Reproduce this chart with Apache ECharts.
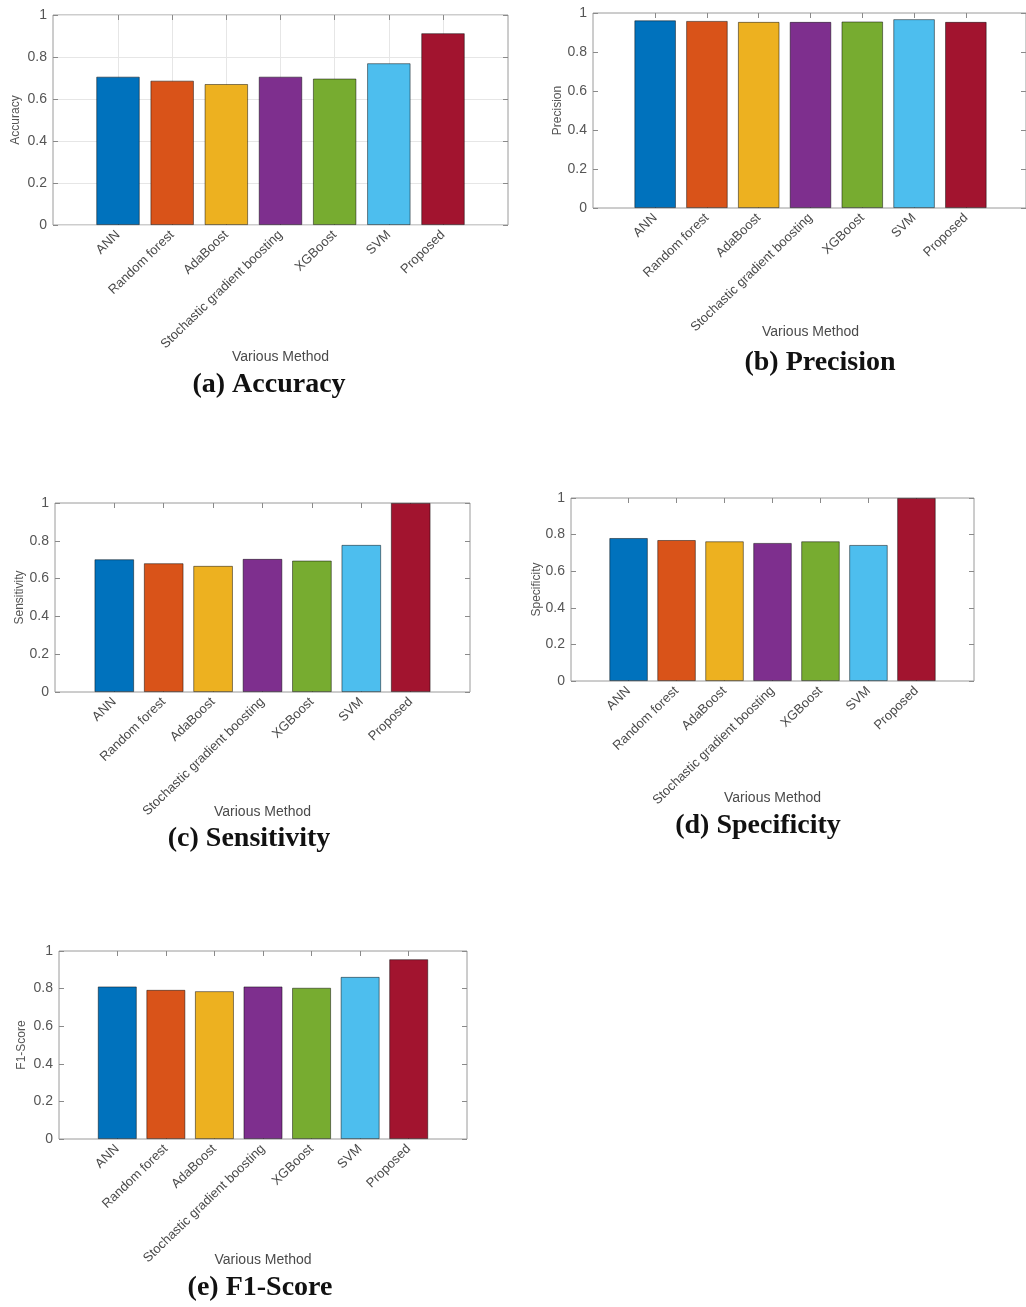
<!DOCTYPE html>
<html>
<head>
<meta charset="utf-8">
<script src="https://cdn.jsdelivr.net/npm/echarts@6/dist/echarts.min.js"></script>
<style>
html, body { margin: 0; padding: 0; background: #fff; }
#chart { width: 1026px; height: 1307px; }
</style>
</head>
<body>
<div id="chart"></div>
<script>
// methods along the x axis of every panel
const methods = ['ANN', 'Random forest', 'AdaBoost', 'Stochastic gradient boosting', 'XGBoost', 'SVM', 'Proposed'];
const barColors = ['#0072BD', '#D95319', '#EDB120', '#7E2F8E', '#77AC30', '#4DBEEE', '#A2142F'];

// values
const accuracy    = [0.706, 0.687, 0.671, 0.706, 0.697, 0.770, 0.913];
const precision   = [0.962, 0.959, 0.954, 0.954, 0.956, 0.968, 0.954];
const sensitivity = [0.702, 0.681, 0.667, 0.704, 0.695, 0.778, 1.000];
const specificity = [0.781, 0.770, 0.763, 0.754, 0.763, 0.743, 1.000];
const f1Score     = [0.811, 0.793, 0.786, 0.811, 0.804, 0.862, 0.956];

// y axis: 0 .. 1 by 0.2
const yMin = 0;
const yMax = 1;
const yStep = 0.2;

const xName = 'Various Method';

// panel layout: gray frame [left, top, right, bottom], caption centre, name gaps
const panels = [
    {values: accuracy,    yName: 'Accuracy',    caption: '(a) Accuracy',    box: [53, 15, 508, 225],    cap: [269, 385],  xGap: 125, yGap: 31, gridOn: true},
    {values: precision,   yName: 'Precision',   caption: '(b) Precision',   box: [593, 13, 1028, 208],  cap: [820, 363],  xGap: 117, yGap: 29, gridOn: false},
    {values: sensitivity, yName: 'Sensitivity', caption: '(c) Sensitivity', box: [55, 503, 470, 692],  cap: [249, 839],  xGap: 113, yGap: 29, gridOn: false},
    {values: specificity, yName: 'Specificity', caption: '(d) Specificity', box: [571, 498, 974, 681],  cap: [758, 826],  xGap: 110, yGap: 28, gridOn: false},
    {values: f1Score,     yName: 'F1-Score',    caption: '(e) F1-Score',    box: [59, 951, 467, 1139],  cap: [260, 1288], xGap: 114, yGap: 31, gridOn: false}
];

const sans = 'Liberation Sans, Arial, sans-serif';
const frameColor = '#9a9a9a';
const tickColor = '#8a8a8a';
const gridColor = '#e6e6e6';

const grid = [], xAxis = [], yAxis = [], series = [], graphic = [];

panels.forEach(function (p) {
    const x0 = p.box[0], y0 = p.box[1], x1 = p.box[2], y1 = p.box[3];
    const w = x1 - x0, h = y1 - y0;
    // the x limits leave 1.2 bar-slots either side of the 7 bars
    const band = w / 8.4;

    // outer grid: the frame, y labels, inside ticks on both sides
    const gOuter = grid.length;
    grid.push({left: x0, top: y0, width: w, height: h, show: true,
        borderColor: frameColor, borderWidth: 1, backgroundColor: 'transparent'});
    // inner grid: only the 7 category slots
    const gInner = grid.length;
    grid.push({left: x0 + band * 0.7, top: y0, width: band * 7, height: h});

    xAxis.push({gridIndex: gOuter, type: 'value', show: false, min: 0, max: 1});
    const xBottom = xAxis.length;
    xAxis.push({
        gridIndex: gInner, type: 'category', data: methods, position: 'bottom',
        axisLine: {show: false},
        axisTick: {show: true, inside: true, alignWithLabel: true, interval: 0, length: 5, lineStyle: {color: tickColor}},
        axisLabel: {rotate: 44, margin: 8, interval: 0, fontSize: 13, color: '#4a4a4a', fontFamily: sans},
        splitLine: {show: p.gridOn, alignWithLabel: true, interval: 0, lineStyle: {color: gridColor}},
        name: xName, nameLocation: 'middle', nameGap: p.xGap, nameMoveOverlap: false,
        nameTextStyle: {fontSize: 14, color: '#4a4a4a', fontFamily: sans}
    });
    xAxis.push({
        gridIndex: gInner, type: 'category', data: methods, position: 'top',
        axisLine: {show: false},
        axisTick: {show: true, inside: true, alignWithLabel: true, interval: 0, length: 5, lineStyle: {color: tickColor}},
        axisLabel: {show: false}
    });

    yAxis.push({
        gridIndex: gOuter, type: 'value', min: yMin, max: yMax, interval: yStep, position: 'left',
        axisLine: {show: false},
        axisTick: {show: true, inside: true, length: 5, lineStyle: {color: tickColor}},
        axisLabel: {margin: 6, fontSize: 14, color: '#555', fontFamily: sans},
        splitLine: {show: p.gridOn, lineStyle: {color: gridColor}},
        name: p.yName, nameLocation: 'middle', nameRotate: 90, nameGap: p.yGap, nameMoveOverlap: false,
        nameTextStyle: {fontSize: 12, color: '#555', fontFamily: sans}
    });
    yAxis.push({
        gridIndex: gOuter, type: 'value', min: yMin, max: yMax, interval: yStep, position: 'right',
        axisLine: {show: false},
        axisTick: {show: true, inside: true, length: 5, lineStyle: {color: tickColor}},
        axisLabel: {show: false},
        splitLine: {show: false}
    });
    const yInner = yAxis.length;
    yAxis.push({gridIndex: gInner, type: 'value', min: yMin, max: yMax, show: false});

    series.push({
        type: 'bar',
        xAxisIndex: xBottom,
        yAxisIndex: yInner,
        barWidth: '80%',
        silent: true,
        itemStyle: {borderColor: 'rgba(0,0,0,0.6)', borderWidth: 0.8},
        data: p.values.map(function (v, i) {
            return {value: v, itemStyle: {color: barColors[i]}};
        })
    });

    graphic.push({
        type: 'text', x: p.cap[0], y: p.cap[1], silent: true,
        style: {text: p.caption, align: 'center', verticalAlign: 'middle',
            font: 'bold 28px "Liberation Serif", "Times New Roman", serif', fill: '#111'}
    });
});

const chart = echarts.init(document.getElementById('chart'), null, {renderer: 'canvas'});
chart.setOption({
    animation: false,
    backgroundColor: '#fff',
    grid: grid,
    xAxis: xAxis,
    yAxis: yAxis,
    series: series,
    graphic: graphic
});
</script>
</body>
</html>
